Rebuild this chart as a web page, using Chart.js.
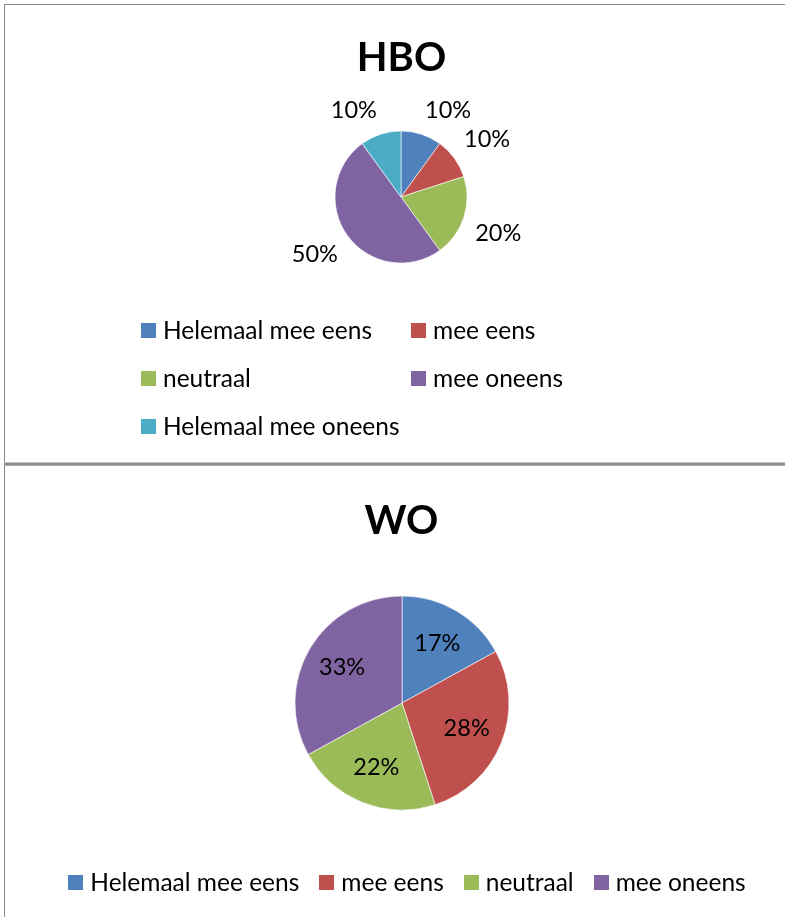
<!DOCTYPE html>
<html>
<head>
<meta charset="utf-8">
<script src="https://cdn.jsdelivr.net/npm/chart.js@4.4.1/dist/chart.umd.min.js"></script>
<style>
  body { margin: 0; background: #fff; font-family: Lato, "Open Sans", sans-serif; }
  #page { position: relative; width: 785px; height: 917px; overflow: hidden; }
  .line { position: absolute; }
  canvas { position: absolute; left: 0; }
  .title { position: absolute; left: 0; width: 803px; text-align: center; font-weight: bold; font-size: 40px; line-height: 50px; color: #000; }
  .legend { position: absolute; font-size: 24.5px; color: #000; }
  .item { display: flex; align-items: center; white-space: nowrap; line-height: 26px; }
  .box { width: 15px; height: 15px; margin-right: 7px; flex: none; }
  #hboLegend { left: 141px; top: 317px; display: grid; grid-template-columns: 270px 200px; row-gap: 22px; }
  #woLegend { left: 0; width: 814px; top: 869px; display: flex; justify-content: center; column-gap: 20px; }
</style>
</head>
<body>
<div id="page">
  <div class="line" style="left:4px;top:4px;right:0;height:1px;background:#888"></div>
  <div class="line" style="left:4px;top:4px;width:1px;height:917px;background:#888"></div>
  <div class="line" style="left:4px;top:462px;right:0;height:1px;background:#c4c4c4"></div>
  <div class="line" style="left:4px;top:463px;right:0;height:2px;background:#8c8c8c"></div>
  <div class="line" style="left:4px;top:465px;right:0;height:1px;background:#a8a8a8"></div>

  <canvas id="hbo" width="785" height="462" style="top:0"></canvas>
  <canvas id="wo" width="785" height="451" style="top:466px"></canvas>

  <div class="title" style="top:31px">HBO</div>
  <div class="title" style="top:494px">WO</div>

  <div class="legend" id="hboLegend"></div>
  <div class="legend" id="woLegend"></div>
</div>
<script>
const categories = ['Helemaal mee eens', 'mee eens', 'neutraal', 'mee oneens', 'Helemaal mee oneens'];
const hboValues = [10, 10, 20, 50, 10];
const woCategories = ['Helemaal mee eens', 'mee eens', 'neutraal', 'mee oneens'];
const woValues = [17, 28, 22, 33];
const colors = ['#4F81BD', '#C0504D', '#9BBB59', '#8064A2', '#4BACC6'];

// percentage labels, inside or outside the slices
const pctLabels = {
    id: 'pctLabels',
    afterDatasetsDraw(chart, args, opts) {
        const ctx = chart.ctx;
        const data = chart.data.datasets[0].data;
        const total = data.reduce((a, b) => a + b, 0);
        ctx.save();
        ctx.font = '23.5px Lato';
        ctx.fillStyle = '#000';
        ctx.textAlign = 'center';
        ctx.textBaseline = 'middle';
        chart.getDatasetMeta(0).data.forEach((arc, i) => {
            const p = arc.getProps(['x', 'y', 'startAngle', 'endAngle', 'outerRadius'], true);
            const mid = (p.startAngle + p.endAngle) / 2;
            const dx = Math.cos(mid), dy = Math.sin(mid);
            const txt = Math.round(data[i] / total * 100) + '%';
            let x, y;
            if (opts.inside) {
                x = p.x + dx * p.outerRadius * 0.65;
                y = p.y + dy * p.outerRadius * 0.65;
            } else {
                const w = ctx.measureText(txt).width, h = 24;
                x = p.x + dx * (p.outerRadius + 12) + Math.sign(dx) * w / 2;
                y = p.y + dy * (p.outerRadius + 12) + Math.sign(dy) * h / 2;
            }
            ctx.fillText(txt, x, y);
        });
        ctx.restore();
    }
};

function makePie(id, labels, values, radius, padding, inside) {
    return new Chart(document.getElementById(id), {
        type: 'pie',
        data: {
            labels: labels,
            datasets: [{
                data: values,
                backgroundColor: colors.slice(0, values.length),
                borderColor: 'rgba(255,255,255,0.6)',
                borderWidth: 1
            }]
        },
        options: {
            responsive: false,
            animation: false,
            radius: radius,
            layout: { padding: padding },
            plugins: {
                legend: { display: false },
                tooltip: { enabled: false },
                pctLabels: { inside: inside }
            }
        },
        plugins: [pctLabels]
    });
}

function buildLegend(el, labels) {
    labels.forEach((lab, i) => {
        const item = document.createElement('div');
        item.className = 'item';
        const box = document.createElement('span');
        box.className = 'box';
        box.style.background = colors[i];
        const t = document.createElement('span');
        t.textContent = lab;
        item.appendChild(box);
        item.appendChild(t);
        el.appendChild(item);
    });
}

makePie('hbo', categories, hboValues, 66, { left: 301, right: 284, top: 97, bottom: 165 }, false);
makePie('wo', woCategories, woValues, 107, { left: 302, right: 283, top: 137, bottom: 114 }, true);
buildLegend(document.getElementById('hboLegend'), categories);
buildLegend(document.getElementById('woLegend'), woCategories);
</script>
</body>
</html>
